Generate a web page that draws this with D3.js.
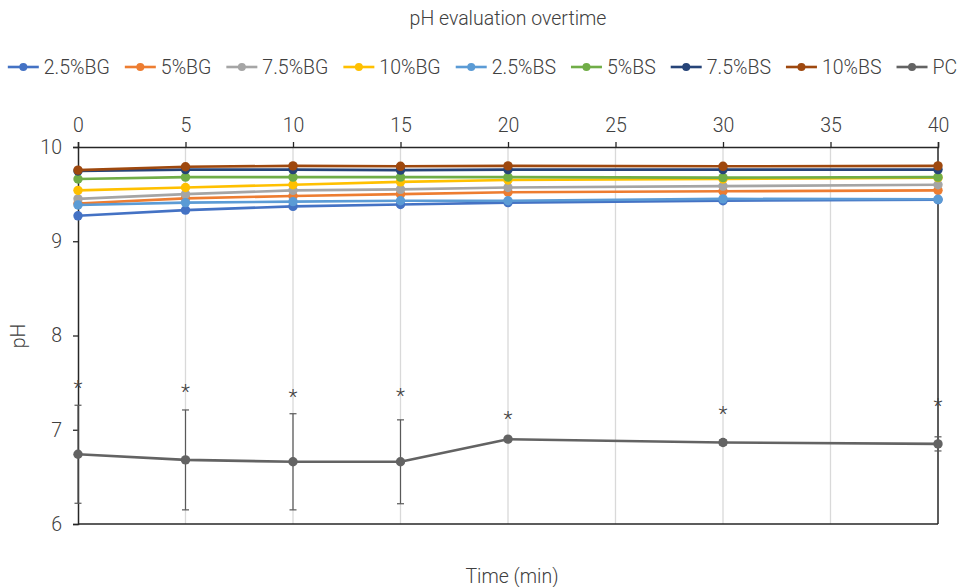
<!DOCTYPE html>
<html>
<head>
<meta charset="utf-8">
<script src="https://cdn.jsdelivr.net/npm/d3@7"></script>
<style>
  body { margin: 0; background: #fff; }
  text { font-family: Roboto, "Noto Sans", sans-serif; fill: #404040; font-weight: 300; }
</style>
</head>
<body>
<div id="chart"></div>
<script>
// data
const times = [0, 5, 10, 15, 20, 30, 40];
const seriesNames = ["2.5%BG", "5%BG", "7.5%BG", "10%BG", "2.5%BS", "5%BS", "7.5%BS", "10%BS", "PC"];
const seriesColors = ["#4472C4", "#ED7D31", "#A5A5A5", "#FFC000", "#5B9BD5", "#70AD47", "#264478", "#9E480E", "#636363"];

const bg25 = [9.27, 9.33, 9.37, 9.39, 9.41, 9.43, 9.44];
const bg5 = [9.40, 9.455, 9.48, 9.50, 9.52, 9.53, 9.54];
const bg75 = [9.45, 9.50, 9.54, 9.55, 9.57, 9.585, 9.60];
const bg10 = [9.54, 9.57, 9.60, 9.63, 9.65, 9.66, 9.675];
const bs25 = [9.385, 9.41, 9.42, 9.43, 9.43, 9.45, 9.445];
const bs5 = [9.66, 9.68, 9.68, 9.68, 9.68, 9.675, 9.68];
const bs75 = [9.745, 9.76, 9.76, 9.755, 9.76, 9.76, 9.76];
const bs10 = [9.755, 9.79, 9.80, 9.795, 9.80, 9.795, 9.80];
const pc = [6.74, 6.68, 6.66, 6.66, 6.90, 6.865, 6.85];
const pcError = [0.52, 0.53, 0.51, 0.445, 0.01, 0.03, 0.075];
// where the significance stars sit (pH units)
const starLevel = [7.50, 7.45, 7.40, 7.41, 7.17, 7.22, 7.31];

const xTicks = [0, 5, 10, 15, 20, 25, 30, 35, 40];
const yTicks = [6, 7, 8, 9, 10];

const allSeries = [bg25, bg5, bg75, bg10, bs25, bs5, bs75, bs10, pc];

const W = 965, H = 587;
const plot = { left: 78, right: 938, top: 147, bottom: 524 };
const fontSize = "19.5px";

const svg = d3.select("#chart").append("svg")
    .attr("width", W)
    .attr("height", H);

const x = d3.scaleLinear().domain([0, 40]).range([plot.left, plot.right]);
const y = d3.scaleLinear().domain([6, 10]).range([plot.bottom, plot.top]);

//gridlines
svg.append("g")
    .selectAll("line")
    .data(xTicks.filter(t => t > 0 && t < 40))
    .enter().append("line")
    .attr("x1", d => x(d)).attr("x2", d => x(d))
    .attr("y1", plot.top).attr("y2", plot.bottom)
    .attr("stroke", "#d9d9d9")
    .attr("stroke-width", 1.3);

//frame on right and bottom
svg.append("line")
    .attr("x1", plot.right).attr("x2", plot.right)
    .attr("y1", plot.top).attr("y2", plot.bottom)
    .attr("stroke", "#262626").attr("stroke-width", 1.5);
svg.append("line")
    .attr("x1", plot.left).attr("x2", plot.right)
    .attr("y1", plot.bottom).attr("y2", plot.bottom)
    .attr("stroke", "#262626").attr("stroke-width", 1.5);

//top x axis
const xAxis = svg.append("g")
    .attr("transform", "translate(0," + plot.top + ")")
    .call(d3.axisTop(x).tickValues(xTicks).tickSize(5).tickPadding(10).tickFormat(d3.format("d")));

//left y axis
const yAxis = svg.append("g")
    .attr("transform", "translate(" + plot.left + ",0)")
    .call(d3.axisLeft(y).tickValues(yTicks).tickSize(5).tickPadding(11).tickFormat(d3.format("d")));

[xAxis, yAxis].forEach(function (ax) {
    ax.select(".domain").attr("stroke", "#262626").attr("stroke-width", 1.5);
    ax.selectAll(".tick line").attr("stroke", "#262626").attr("stroke-width", 1.3);
    ax.selectAll(".tick text")
        .attr("fill", "#404040")
        .style("font-size", fontSize)
        .style("font-family", "Roboto, sans-serif")
        .style("font-weight", 300);
});

//error bars on PC
const errG = svg.append("g");
times.forEach(function (t, i) {
    const e = pcError[i];
    errG.append("line")
        .attr("x1", x(t)).attr("x2", x(t))
        .attr("y1", y(pc[i] - e)).attr("y2", y(pc[i] + e))
        .attr("stroke", "#595959").attr("stroke-width", 1.2);
    [pc[i] - e, pc[i] + e].forEach(function (v) {
        errG.append("line")
            .attr("x1", x(t) - 3.5).attr("x2", x(t) + 3.5)
            .attr("y1", y(v)).attr("y2", y(v))
            .attr("stroke", "#595959").attr("stroke-width", 1.2);
    });
});

//lines + markers
const line = d3.line()
    .x((d, i) => x(times[i]))
    .y(d => y(d));

allSeries.forEach(function (vals, s) {
    const g = svg.append("g");
    g.append("path")
        .attr("d", line(vals))
        .attr("fill", "none")
        .attr("stroke", seriesColors[s])
        .attr("stroke-width", 2.6)
        .attr("stroke-linejoin", "round");
    g.selectAll("circle")
        .data(vals)
        .enter().append("circle")
        .attr("cx", (d, i) => x(times[i]))
        .attr("cy", d => y(d))
        .attr("r", 4.7)
        .attr("fill", seriesColors[s]);
});

//stars
svg.append("g")
    .selectAll("text")
    .data(starLevel)
    .enter().append("text")
    .attr("x", (d, i) => x(times[i]))
    .attr("y", d => y(d) + 12)
    .attr("text-anchor", "middle")
    .style("font-size", "21px")
    .attr("fill", "#262626")
    .text("*");

//titles
svg.append("text")
    .attr("x", (plot.left + plot.right) / 2)
    .attr("y", 25)
    .attr("text-anchor", "middle")
    .style("font-size", fontSize)
    .text("pH evaluation overtime");

svg.append("text")
    .attr("x", 512)
    .attr("y", 583)
    .attr("text-anchor", "middle")
    .style("font-size", fontSize)
    .text("Time (min)");

svg.append("text")
    .attr("transform", "translate(25,336) rotate(-90)")
    .attr("text-anchor", "middle")
    .style("font-size", fontSize)
    .text("pH");

//legend, laid out from measured text widths and centred
const legend = svg.append("g");
let cursor = 0;
const gap = 15;
seriesNames.forEach(function (name, s) {
    const it = legend.append("g");
    it.append("line")
        .attr("x1", 0).attr("x2", 31)
        .attr("y1", 0).attr("y2", 0)
        .attr("stroke", seriesColors[s]).attr("stroke-width", 2.6);
    it.append("circle")
        .attr("cx", 15.5).attr("cy", 0).attr("r", 4)
        .attr("fill", seriesColors[s]);
    const txt = it.append("text")
        .attr("x", 36).attr("y", 7)
        .style("font-size", fontSize)
        .text(name);
    const w = 36 + txt.node().getComputedTextLength();
    it.attr("transform", "translate(" + cursor + ",0)");
    cursor += w + gap;
});
const legendWidth = cursor - gap;
legend.attr("transform", "translate(" + (W / 2 - legendWidth / 2) + ",67)");
</script>
</body>
</html>
